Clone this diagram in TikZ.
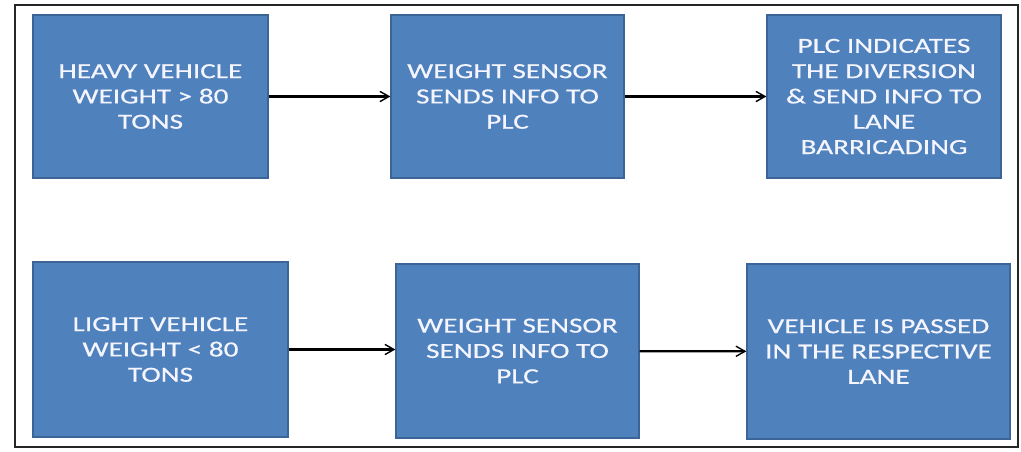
\documentclass[tikz,border=0pt]{standalone}
\usepackage{fontspec}
\setmainfont{Carlito}[FakeStretch=1.36,FakeBold=0.6]
\usepackage{xcolor}
\usepackage{tikz}
\usetikzlibrary{arrows.meta}

\definecolor{boxblue}{HTML}{4F81BD}
\definecolor{boxedge}{HTML}{3A6596}

\begin{document}
\begin{tikzpicture}[x=1pt,y=-1pt,>={Straight Barb[length=3.2mm,width=3.6mm,line width=1.4pt]},
  stage/.style={rectangle,draw=boxedge,line width=1.2pt,fill=boxblue,text=white!96!blue,align=center,
    inner sep=2pt,font=\fontsize{21.5}{25.3}\selectfont},
  flow/.style={->,line width=2.2pt,black}]
  \useasboundingbox (0,0) rectangle (1021,452);
  \draw[line width=1.3pt,black!85] (15,5) rectangle (1018,447);
  % heavy vehicle row
  \node[stage,minimum width=235,minimum height=163] (h1) at (150.5,96.5) {HEAVY VEHICLE\\WEIGHT > 80\\TONS};
  \node[stage,minimum width=233,minimum height=163] (h2) at (507.5,96.5) {WEIGHT SENSOR\\SENDS INFO TO\\PLC};
  \node[stage,minimum width=234,minimum height=163] (h3) at (884,96.5) {PLC INDICATES\\THE DIVERSION\\\& SEND INFO TO\\LANE\\BARRICADING};
  % light vehicle row
  \node[stage,minimum width=255,minimum height=175] (l1) at (160.5,349.5) {LIGHT VEHICLE\\WEIGHT < 80\\TONS};
  \node[stage,minimum width=243,minimum height=174] (l2) at (517.5,351) {WEIGHT SENSOR\\SENDS INFO TO\\PLC};
  \node[stage,minimum width=263,minimum height=175] (l3) at (878.5,351.5) {VEHICLE IS PASSED\\IN THE RESPECTIVE\\LANE};
  \draw[flow] (h1) -- (h2);
  \draw[flow] (h2) -- (h3);
  \draw[flow] (l1.east) -- (l1.east -| l2.west);
  \draw[flow] (l2) -- (l3);
\end{tikzpicture}
\end{document}
